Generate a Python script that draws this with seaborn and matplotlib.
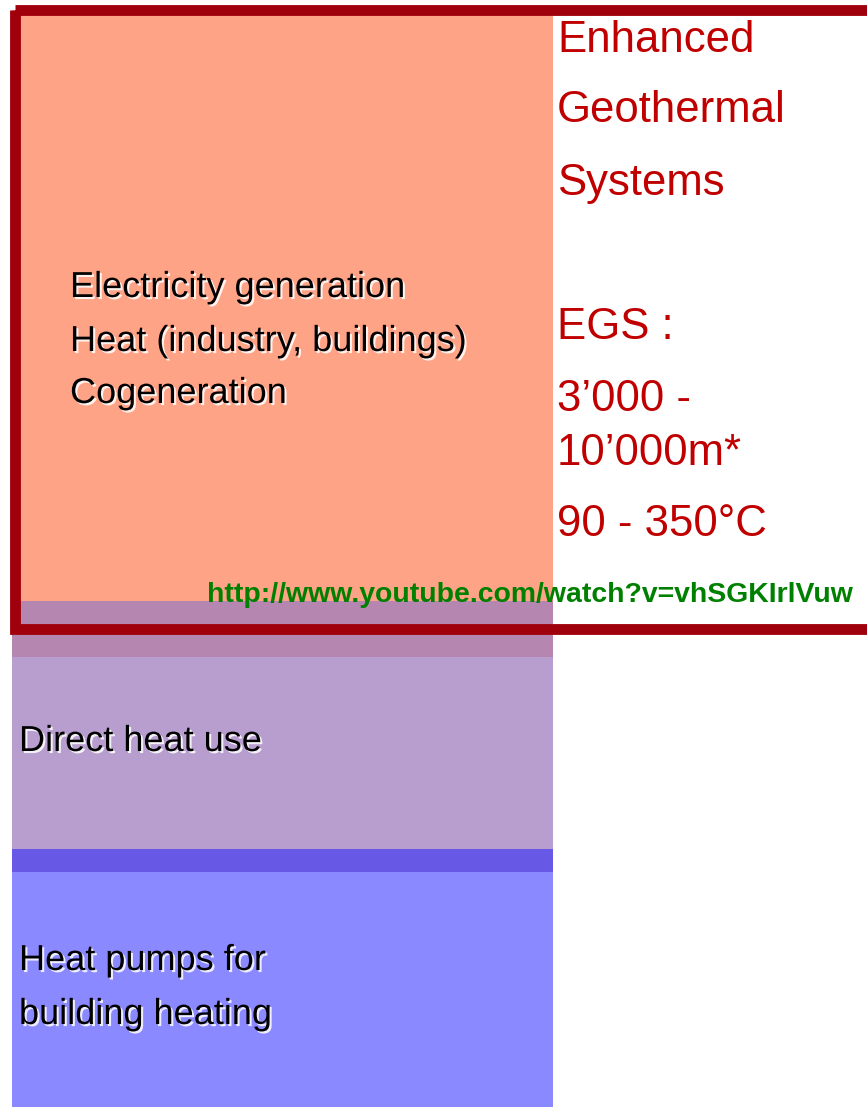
import matplotlib
matplotlib.use("Agg")
import matplotlib.pyplot as plt
import matplotlib.patheffects as pe
from matplotlib import font_manager
from matplotlib.patches import Rectangle
import seaborn as sns

# depth bands (figure pixel scale, top -> bottom)
band_names = ["EGS", "overlap", "Direct heat use", "transition", "Heat pumps"]
band_tops = [10, 601, 657, 849, 872]
band_bottoms = [601, 657, 849, 872, 1107]
band_colors = ["#FFA386", "#B586B0", "#B89DCF", "#6759E6", "#8B89FF"]

use_lines = ["Electricity generation", "Heat (industry, buildings)", "Cogeneration"]
use_base = [297, 351, 403]
low_lines = ["Direct heat use", "Heat pumps for", "building heating"]
low_base = [751, 970, 1024]
egs_lines = ["Enhanced", "Geothermal", "Systems", "EGS :", "3\u2019000 -", "10\u2019000m*", "90 - 350\u00b0C"]
egs_base = [52, 122, 195, 339, 411, 465, 536]
url = "http://www.youtube.com/watch?v=vhSGKIrlVuw"

sns.set_theme(style="white")
names = {f.name for f in font_manager.fontManager.ttflist}
if "Liberation Sans Narrow" in names:
    narrow, black_size, url_size = "Liberation Sans Narrow", 28, 24
else:
    narrow, black_size, url_size = "Liberation Sans", 26, 20.4
plt.rcParams["font.family"] = ["Liberation Sans", "DejaVu Sans"]

fig = plt.figure(figsize=(8.67, 11.07), dpi=100)
ax = fig.add_axes([0, 0, 1, 1])
ax.set_xlim(0, 867)
ax.set_ylim(1107, 0)
ax.axis("off")

heights = [b - t for t, b in zip(band_tops, band_bottoms)]
ax.bar([12] * len(band_tops), heights, bottom=band_tops, width=541,
       align="edge", color=band_colors, linewidth=0, zorder=1)

# EGS frame
ax.add_patch(Rectangle((14.5, 9.5), 870, 619.5, fill=False,
                       edgecolor="#A0000C", linewidth=7.8, zorder=2))

shadow = [pe.withSimplePatchShadow(offset=(1.5, -1.5), shadow_rgbFace="white", alpha=0.85)]
for txt, y in zip(use_lines, use_base):
    ax.text(70, y, txt, family=narrow, fontsize=black_size, color="black",
            va="baseline", path_effects=shadow, zorder=3)
for txt, y in zip(low_lines, low_base):
    ax.text(19, y, txt, family=narrow, fontsize=black_size, color="black",
            va="baseline", path_effects=shadow, zorder=3)
for txt, y in zip(egs_lines, egs_base):
    ax.text(557, y, txt, fontsize=31.5, color="#C00000", va="baseline", zorder=3)

ax.text(207, 602, url, family=narrow, fontsize=url_size, fontweight="bold",
        color="#008000", va="baseline", zorder=4)

fig.savefig("out.png", dpi=100)
